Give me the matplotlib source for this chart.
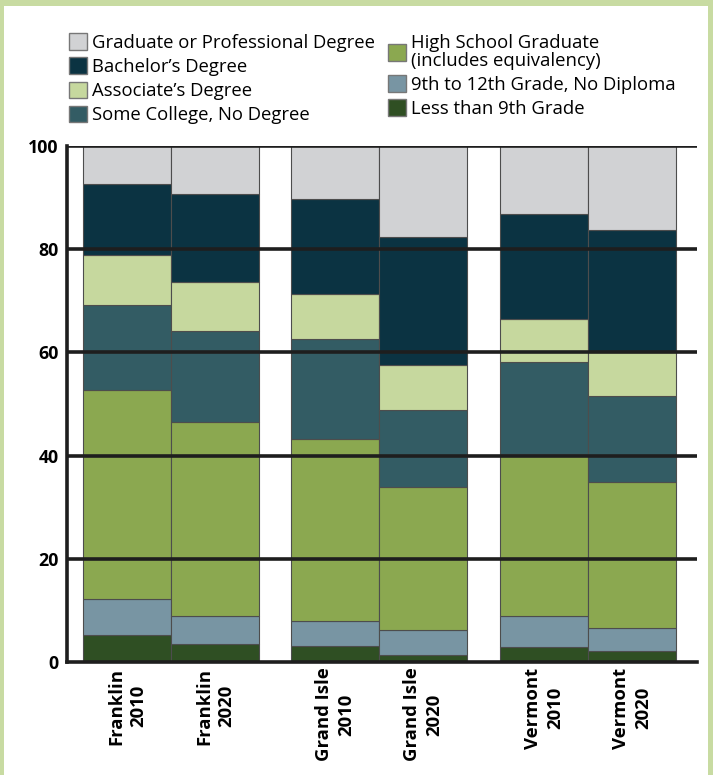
import matplotlib.pyplot as plt
from matplotlib.patches import Rectangle, Patch
import numpy as np

plt.rcParams['font.family'] = ['Open Sans', 'DejaVu Sans']

bars = ['Franklin\n2010', 'Franklin\n2020', 'Grand Isle\n2010', 'Grand Isle\n2020',
        'Vermont\n2010', 'Vermont\n2020']
x_pos = [0, 1, 2.36, 3.36, 4.73, 5.73]

# percent of population 25+, bottom to top
less_9th = [5.2, 3.5, 3.1, 1.3, 3.0, 2.1]
grade_9_12 = [7.0, 5.5, 4.9, 4.9, 6.0, 4.4]
high_school = [40.6, 37.5, 35.2, 27.7, 31.3, 28.3]
some_college = [16.4, 17.7, 19.4, 15.0, 17.8, 16.7]
associate = [9.7, 9.4, 8.8, 8.7, 8.3, 8.6]
bachelor = [13.7, 17.1, 18.3, 24.7, 20.4, 23.7]
graduate = [7.4, 9.3, 10.3, 17.7, 13.2, 16.2]

series = [
    ('Less than 9th Grade', less_9th, '#2f4f23'),
    ('9th to 12th Grade, No Diploma', grade_9_12, '#7895a3'),
    ('High School Graduate\n(includes equivalency)', high_school, '#8ba850'),
    ('Some College, No Degree', some_college, '#335c64'),
    ("Associate\u2019s Degree", associate, '#c6d89e'),
    ("Bachelor\u2019s Degree", bachelor, '#0b3342'),
    ('Graduate or Professional Degree', graduate, '#d1d2d4'),
]

fig = plt.figure(figsize=(7.13, 7.75), dpi=100)
fig.patch.set_facecolor('#c8dba2')
fig.patches.append(Rectangle((4 / 713, 0), 704 / 713, 1 - 6 / 775, transform=fig.transFigure,
                             facecolor='white', edgecolor='none', zorder=-10))

ax = fig.add_axes([67 / 713, 1 - 662 / 775, 630 / 713, 516 / 775])
ax.set_facecolor('none')

bottom = np.zeros(len(bars))
for name, vals, color in series:
    ax.bar(x_pos, vals, width=1.0, bottom=bottom, color=color, edgecolor='#4d4d4d',
           linewidth=0.8, zorder=2)
    bottom += np.array(vals)

ax.set_xlim(-0.685, 6.47)
ax.set_ylim(0, 100)
ax.set_yticks([0, 20, 40, 60, 80, 100])
for y in [20, 40, 60, 80, 100]:
    ax.axhline(y, color='#1e1e1e', linewidth=2.6, zorder=3)

for s in ['top', 'right']:
    ax.spines[s].set_visible(False)
for s in ['left', 'bottom']:
    ax.spines[s].set_linewidth(2.6)
    ax.spines[s].set_color('#1e1e1e')
    ax.spines[s].set_zorder(4)

ax.tick_params(axis='y', length=0, pad=6, labelsize=12.8)
ax.tick_params(axis='x', length=0, pad=4, labelsize=13.3)
ax.set_xticks(x_pos)
ax.set_xticklabels(bars, rotation=90, fontweight='bold', linespacing=1.3)
for t in ax.get_xticklabels():
    t.set_multialignment('center')
for t in ax.get_yticklabels():
    t.set_fontweight('bold')


def add_legend(idx, x_px, y_px):
    handles = [Patch(facecolor=series[i][2], edgecolor='#777777', linewidth=1.0) for i in idx]
    labels = [series[i][0] for i in idx]
    leg = fig.legend(handles, labels, loc='upper left',
                     bbox_to_anchor=(x_px / 713, 1 - y_px / 775),
                     frameon=False, fontsize=13.3, handlelength=0.95, handleheight=1.0,
                     handletextpad=0.3, labelspacing=0.3, borderpad=0)
    for t in leg.get_texts():
        t.set_linespacing(0.95)
    return leg


add_legend([6, 5, 4, 3], 60, 24)
add_legend([2, 1, 0], 379, 25)

fig.savefig('out.png', dpi=100, facecolor=fig.get_facecolor())
